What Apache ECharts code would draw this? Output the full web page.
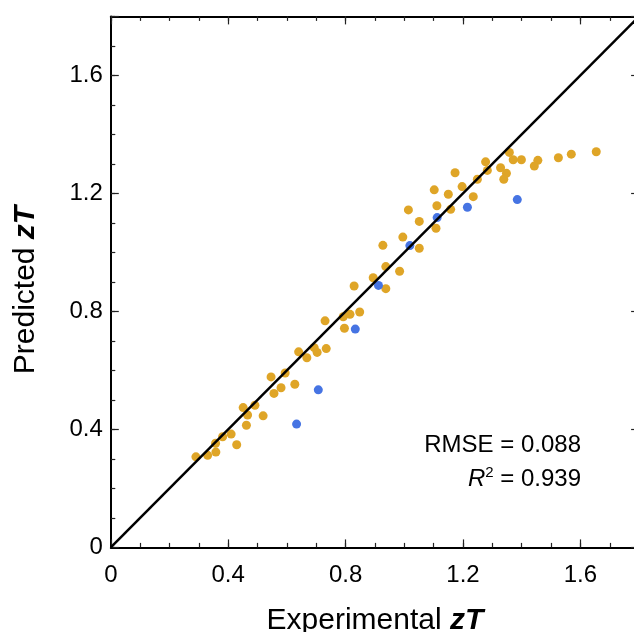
<!DOCTYPE html>
<html>
<head>
<meta charset="utf-8">
<title>Predicted vs experimental zT</title>
<script src="https://cdn.jsdelivr.net/npm/echarts@6/dist/echarts.min.js"></script>
<style>
  html, body { margin: 0; padding: 0; background: #fff; }
  #chart { width: 634px; height: 632px; }
</style>
</head>
<body>
<div id="chart"></div>
<script>
// training set (gold): [experimental, predicted]
const trainPoints = [
  [0.290, 0.307], [0.330, 0.312], [0.358, 0.323], [0.357, 0.353], [0.381, 0.375],
  [0.410, 0.384], [0.429, 0.348], [0.451, 0.474], [0.466, 0.449], [0.491, 0.482],
  [0.462, 0.414], [0.519, 0.446], [0.546, 0.578], [0.594, 0.591], [0.556, 0.522],
  [0.580, 0.541], [0.627, 0.553], [0.640, 0.663], [0.668, 0.643], [0.693, 0.677],
  [0.703, 0.661], [0.734, 0.674], [0.730, 0.768], [0.792, 0.782], [0.815, 0.790],
  [0.848, 0.798], [0.796, 0.743], [0.829, 0.886], [0.894, 0.914], [0.937, 0.877],
  [0.937, 0.952], [0.984, 0.936], [0.927, 1.024], [0.995, 1.052], [1.051, 1.014],
  [1.014, 1.144], [1.051, 1.105], [1.102, 1.212], [1.111, 1.158], [1.108, 1.082],
  [1.150, 1.197], [1.158, 1.146], [1.197, 1.223], [1.235, 1.189], [1.173, 1.270],
  [1.249, 1.248], [1.277, 1.307], [1.283, 1.278], [1.328, 1.287], [1.348, 1.268],
  [1.339, 1.248], [1.358, 1.339], [1.371, 1.314], [1.399, 1.314], [1.455, 1.312],
  [1.443, 1.293], [1.525, 1.321], [1.569, 1.333], [1.654, 1.341]
];

// test set (blue)
const testPoints = [
  [0.633, 0.418], [0.707, 0.534], [0.833, 0.740], [0.912, 0.888],
  [1.019, 1.023], [1.112, 1.118], [1.215, 1.153], [1.385, 1.179]
];

const parityLine = [[0, 0], [1.8, 1.8]];

const axisMin = 0;
const axisMax = 1.8;
const majorStep = 0.4;
const minorStep = 0.1;
const statsLines = ['RMSE = 0.088', '{i|R}{s|2} = 0.939'];

const FONT = '"Liberation Sans", Arial, Helvetica, sans-serif';

function fmtTick(v) {
  if (Math.abs(v) < 1e-9) return '0';
  if (Math.abs(v - axisMax) < 1e-9) return '';
  return v.toFixed(1);
}

function makeAxis(position, major, withLabels) {
  return {
    type: 'value',
    position: position,
    min: axisMin,
    max: axisMax,
    interval: major ? majorStep : minorStep,
    axisLine: { show: major, onZero: false, lineStyle: { color: '#000', width: 2 } },
    axisTick: {
      show: true,
      inside: true,
      length: major ? 8 : 4.5,
      lineStyle: { color: '#222', width: 1.2 }
    },
    axisLabel: {
      show: withLabels,
      formatter: fmtTick,
      color: '#000',
      fontSize: 24,
      fontFamily: FONT,
      margin: position === 'bottom' ? 15.5 : 8
    },
    splitLine: { show: false }
  };
}

const chart = echarts.init(document.getElementById('chart'), null, { renderer: 'canvas' });

const xMain = makeAxis('bottom', true, true);
xMain.name = 'Experimental {b|zT}';
xMain.nameLocation = 'middle';
xMain.nameGap = 58;
xMain.nameTextStyle = {
  color: '#000',
  fontSize: 30,
  fontFamily: FONT,
  rich: { b: { fontSize: 30, fontFamily: FONT, fontWeight: 'bold', fontStyle: 'italic', color: '#000' } }
};

chart.setOption({
  backgroundColor: '#fff',
  animation: false,
  grid: { left: 110.8, top: 16.4, right: -5.1, bottom: 84.6, outerBoundsMode: 'none', containLabel: false },
  xAxis: [
    xMain,
    makeAxis('bottom', false, false),
    makeAxis('top', true, false),
    makeAxis('top', false, false)
  ],
  yAxis: [
    makeAxis('left', true, true),
    makeAxis('left', false, false),
    makeAxis('right', true, false),
    makeAxis('right', false, false)
  ],
  graphic: [
    {
      type: 'text',
      x: 26,
      y: 290,
      rotation: Math.PI / 2,
      style: {
        text: 'Predicted {b|zT}',
        fill: '#000',
        fontSize: 30,
        fontFamily: FONT,
        align: 'center',
        verticalAlign: 'middle',
        rich: { b: { fontSize: 30, fontFamily: FONT, fontWeight: 'bold', fontStyle: 'italic', fill: '#000' } }
      }
    },
    {
      type: 'text',
      x: 581,
      y: 445,
      style: {
        text: statsLines[0],
        fill: '#000',
        fontSize: 24,
        fontFamily: FONT,
        align: 'right',
        verticalAlign: 'middle'
      }
    },
    {
      type: 'text',
      x: 581,
      y: 479,
      style: {
        text: statsLines[1],
        fill: '#000',
        fontSize: 24,
        fontFamily: FONT,
        align: 'right',
        verticalAlign: 'middle',
        rich: {
          i: { fontSize: 24, fontFamily: FONT, fontStyle: 'italic', fill: '#000' },
          s: { fontSize: 15, fontFamily: FONT, fill: '#000', padding: [0, 0, 12, 0] }
        }
      }
    }
  ],
  series: [
    {
      name: 'train',
      type: 'scatter',
      data: trainPoints,
      symbol: 'circle',
      symbolSize: 9,
      itemStyle: { color: '#DFA527', opacity: 1 },
      z: 2
    },
    {
      name: 'test',
      type: 'scatter',
      data: testPoints,
      symbol: 'circle',
      symbolSize: 9,
      itemStyle: { color: '#4674E3', opacity: 1 },
      z: 3
    },
    {
      name: 'parity',
      type: 'line',
      data: parityLine,
      symbol: 'none',
      lineStyle: { color: '#000', width: 2.5 },
      z: 4
    }
  ]
});
</script>
</body>
</html>
